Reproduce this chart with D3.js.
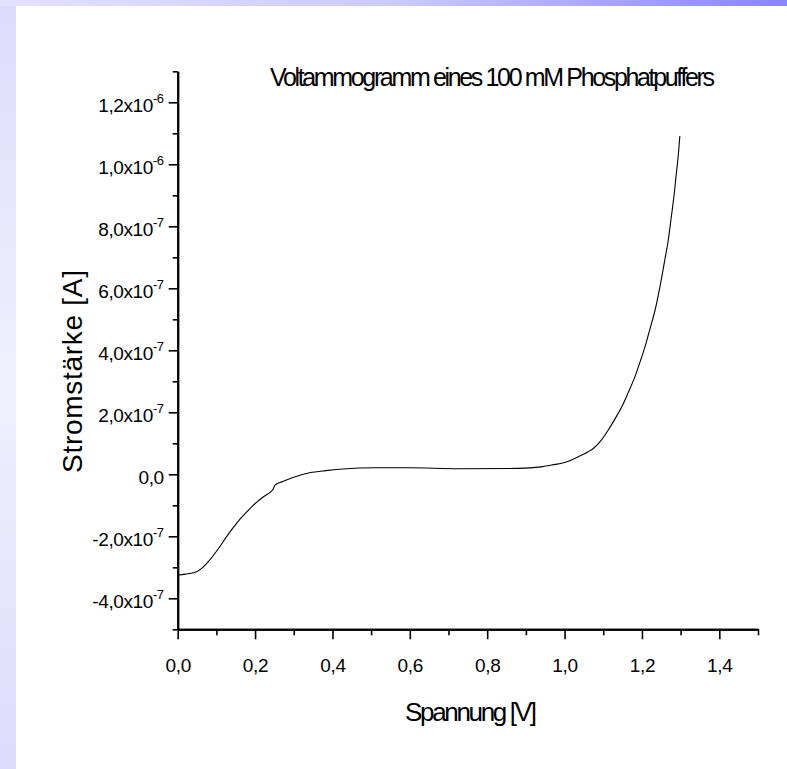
<!DOCTYPE html>
<html>
<head>
<meta charset="utf-8">
<script src="https://cdn.jsdelivr.net/npm/d3@7"></script>
<style>
  body { margin: 0; background: #fff; }
  svg { display: block; }
  text { font-family: Arial, "Liberation Sans", sans-serif; fill: #000; }
</style>
</head>
<body>
<svg id="chart" width="787" height="769"></svg>
<script>
// Voltammogramm data (voltage in V, current in A)
const voltage = [0.000, 0.020, 0.049, 0.065, 0.083, 0.105, 0.126, 0.143, 0.160, 0.178, 0.195, 0.220, 0.242, 0.246, 0.251, 0.270, 0.298, 0.341, 0.383, 0.426, 0.512, 0.598, 0.727, 0.881, 0.940, 0.967, 1.000, 1.036, 1.060, 1.075, 1.095, 1.113, 1.130, 1.148, 1.165, 1.182, 1.195, 1.208, 1.221, 1.234, 1.247, 1.259, 1.268, 1.276, 1.283, 1.289, 1.294, 1.298];
const current = [-3.25e-7, -3.22e-7, -3.14e-7, -3.00e-7, -2.76e-7, -2.40e-7, -2.02e-7, -1.73e-7, -1.46e-7, -1.22e-7, -1.00e-7, -0.74e-7, -0.55e-7, -0.50e-7, -0.36e-7, -0.24e-7, -0.10e-7, 0.05e-7, 0.12e-7, 0.17e-7, 0.21e-7, 0.21e-7, 0.18e-7, 0.19e-7, 0.24e-7, 0.30e-7, 0.38e-7, 0.57e-7, 0.72e-7, 0.84e-7, 1.10e-7, 1.43e-7, 1.78e-7, 2.18e-7, 2.65e-7, 3.15e-7, 3.62e-7, 4.12e-7, 4.70e-7, 5.30e-7, 6.08e-7, 6.91e-7, 7.55e-7, 8.31e-7, 9.00e-7, 9.71e-7, 10.30e-7, 10.91e-7];

// ticks
const xMajor = [0, 0.2, 0.4, 0.6, 0.8, 1.0, 1.2, 1.4];
const xMinor = [0.1, 0.3, 0.5, 0.7, 0.9, 1.1, 1.3, 1.5];
const xLabels = ["0,0", "0,2", "0,4", "0,6", "0,8", "1,0", "1,2", "1,4"];
const yMajor = [-4e-7, -2e-7, 0, 2e-7, 4e-7, 6e-7, 8e-7, 1.0e-6, 1.2e-6];
const yMinor = [-5e-7, -3e-7, -1e-7, 1e-7, 3e-7, 5e-7, 7e-7, 9e-7, 1.1e-6, 1.3e-6];
const yMantissa = ["-4,0x10", "-2,0x10", "0,0", "2,0x10", "4,0x10", "6,0x10", "8,0x10", "1,0x10", "1,2x10"];
const yExponent = ["-7", "-7", "", "-7", "-7", "-7", "-7", "-6", "-6"];

const svg = d3.select("#chart");

// decorative frame bands
const defs = svg.append("defs");
const gTop = defs.append("linearGradient").attr("id", "gTop")
  .attr("x1", 0).attr("x2", 1).attr("y1", 0).attr("y2", 0);
gTop.append("stop").attr("offset", 0).attr("stop-color", "#e4e2fd");
gTop.append("stop").attr("offset", 0.5).attr("stop-color", "#cbcafe");
gTop.append("stop").attr("offset", 1).attr("stop-color", "#8886ff");
const gLeft = defs.append("linearGradient").attr("id", "gLeft")
  .attr("x1", 0).attr("x2", 0).attr("y1", 0).attr("y2", 1);
gLeft.append("stop").attr("offset", 0).attr("stop-color", "#dddbfc");
gLeft.append("stop").attr("offset", 0.5).attr("stop-color", "#f1f0fe");
gLeft.append("stop").attr("offset", 1).attr("stop-color", "#dcdbfc");

svg.append("rect").attr("x", 0).attr("y", 0).attr("width", 16).attr("height", 769).attr("fill", "url(#gLeft)");
svg.append("rect").attr("x", 0).attr("y", 0).attr("width", 787).attr("height", 6).attr("fill", "url(#gTop)");

const x = d3.scaleLinear().domain([0, 1.5]).range([177.7, 758]);
const y = d3.scaleLinear().domain([-5e-7, 1.3e-6]).range([629.3, 71.3]);

// x axis
const xAxisG = svg.append("g").attr("transform", "translate(0," + y(-5e-7) + ")");
xAxisG.append("g").attr("class", "minor")
  .call(d3.axisBottom(x).tickValues(xMinor).tickSize(6).tickSizeOuter(0).tickFormat(""));
xAxisG.append("g").attr("class", "major")
  .call(d3.axisBottom(x).tickValues(xMajor).tickSize(10).tickSizeOuter(0).tickFormat((d, i) => xLabels[i]).tickPadding(19));
xAxisG.selectAll("text").attr("font-size", 19).attr("letter-spacing", "-0.3px");

// y axis
const yAxisG = svg.append("g").attr("transform", "translate(" + x(0) + ",0)");
yAxisG.append("g").attr("class", "minor")
  .call(d3.axisLeft(y).tickValues(yMinor).tickSize(5).tickSizeOuter(0).tickFormat(""));
yAxisG.append("g").attr("class", "major")
  .call(d3.axisLeft(y).tickValues(yMajor).tickSize(9).tickSizeOuter(0).tickFormat(""));

yAxisG.select(".major").selectAll(".tick").each(function(d, i) {
  const t = d3.select(this).append("text")
    .attr("x", -14).attr("y", 9)
    .attr("text-anchor", "end")
    .attr("font-size", 19)
    .attr("letter-spacing", "-0.4px");
  t.append("tspan").text(yMantissa[i]);
  if (yExponent[i]) {
    t.append("tspan").attr("dy", -9).attr("font-size", 13).text(yExponent[i]);
  }
});

svg.selectAll(".domain").attr("stroke", "#000").attr("stroke-width", 2);
svg.selectAll(".tick line").attr("stroke", "#000").attr("stroke-width", 1.6);
svg.selectAll(".tick text").attr("fill", "#000").attr("font-family", "Arial, 'Liberation Sans', sans-serif");

// curve
const pts = voltage.map((v, i) => [v, current[i]]);
svg.append("path")
  .datum(pts)
  .attr("fill", "none")
  .attr("stroke", "#000")
  .attr("stroke-width", 1.1)
  .attr("d", d3.line().x(d => x(d[0])).y(d => y(d[1])).curve(d3.curveMonotoneX));

// titles
svg.append("text")
  .attr("x", 270).attr("y", 86)
  .attr("font-size", 25)
  .attr("textLength", 445).attr("lengthAdjust", "spacing")
  .text("Voltammogramm eines 100 mM Phosphatpuffers");

svg.append("text")
  .attr("x", 405).attr("y", 721)
  .attr("font-size", 26)
  .attr("textLength", 132).attr("lengthAdjust", "spacing")
  .text("Spannung [V]");

svg.append("text")
  .attr("transform", "translate(82,473) rotate(-90)")
  .attr("font-size", 28)
  .attr("textLength", 203).attr("lengthAdjust", "spacing")
  .text("Stromstärke [A]");
</script>
</body>
</html>
